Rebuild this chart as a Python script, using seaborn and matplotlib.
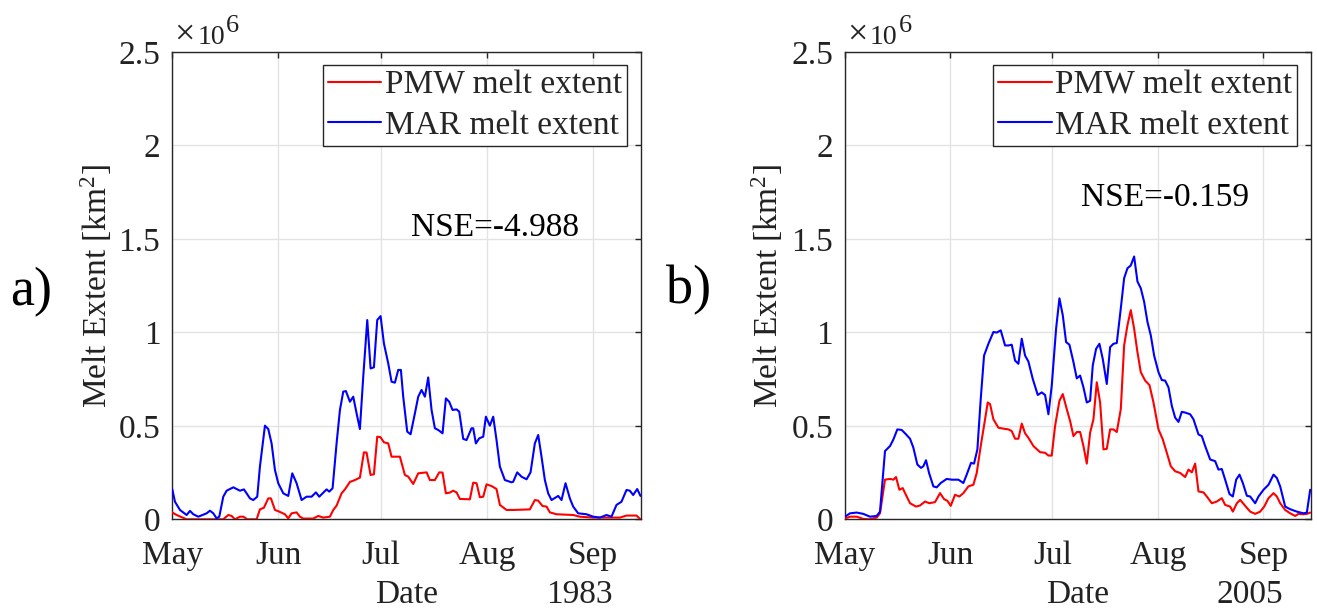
import numpy as np
import pandas as pd
import matplotlib
matplotlib.use("Agg")
import matplotlib.pyplot as plt
import matplotlib.dates as mdates
import seaborn as sns

# ---------------- data (melt extent in 10^6 km^2, day offset from May 1) -------------
years = ["1983", "2005"]
panel_labels = ["a)", "b)"]
nse_texts = ["NSE=-4.988", "NSE=-0.159"]
series_labels = ["PMW melt extent", "MAR melt extent"]
month_labels = ["May", "Jun", "Jul", "Aug", "Sep"]
ytick_values = [0, 0.5, 1, 1.5, 2, 2.5]
ytick_labels = ["0", "0.5", "1", "1.5", "2", "2.5"]

mar_1983_day = [0.0, 0.78, 2.24, 4.19, 5.17, 6.14, 7.60, 10.04, 11.01, 11.99, 12.96, 13.74, 14.91, 15.89,
                17.84, 19.79, 20.96, 22.71, 23.68, 24.85, 25.63, 27.10, 28.07, 29.04, 30.02, 30.99, 32.46,
                33.92, 35.09, 36.35, 37.82, 39.28, 40.74, 42.01, 42.98, 45.13, 45.91, 46.88, 48.05, 49.03,
                50.00, 50.78, 51.95, 52.92, 53.90, 54.87, 55.85, 57.02, 58.00, 58.97, 59.94, 60.92, 61.89,
                63.16, 64.13, 65.11, 66.08, 66.86, 67.54, 68.71, 69.69, 70.96, 71.93, 72.90, 73.88, 74.85,
                75.83, 76.80, 77.78, 79.04, 80.02, 80.99, 81.97, 83.14, 83.92, 85.09, 86.06, 87.52, 88.01,
                88.79, 89.77, 90.94, 91.72, 92.88, 93.86, 94.83, 95.81, 97.27, 99.22, 99.71, 100.88, 102.14,
                103.61, 104.78, 106.04, 107.02, 107.99, 108.97, 109.94, 110.92, 112.87, 113.84, 115.01,
                116.28, 117.25, 118.71, 121.15, 123.10, 125.05, 127.00, 128.46, 129.92, 131.38, 132.85,
                133.82, 134.80, 135.97, 136.94]
mar_1983_val = [0.160, 0.094, 0.050, 0.023, 0.045, 0.027, 0.014, 0.032, 0.046, 0.032, 0.005, 0.014, 0.121,
                0.153, 0.171, 0.153, 0.160, 0.112, 0.103, 0.121, 0.282, 0.501, 0.483, 0.406, 0.264, 0.193,
                0.139, 0.125, 0.246, 0.193, 0.103, 0.121, 0.121, 0.144, 0.121, 0.160, 0.148, 0.166, 0.406,
                0.585, 0.683, 0.686, 0.629, 0.656, 0.567, 0.483, 0.763, 1.066, 0.807, 0.813, 1.066, 1.087,
                0.941, 0.834, 0.736, 0.731, 0.799, 0.799, 0.656, 0.469, 0.455, 0.567, 0.656, 0.692, 0.656,
                0.759, 0.585, 0.487, 0.478, 0.460, 0.647, 0.629, 0.585, 0.588, 0.576, 0.430, 0.424, 0.487,
                0.487, 0.406, 0.433, 0.442, 0.549, 0.501, 0.549, 0.424, 0.282, 0.210, 0.198, 0.201, 0.251,
                0.228, 0.214, 0.251, 0.406, 0.451, 0.335, 0.210, 0.139, 0.103, 0.125, 0.103, 0.193, 0.112,
                0.068, 0.032, 0.027, 0.014, 0.009, 0.023, 0.014, 0.077, 0.094, 0.157, 0.153, 0.130, 0.162,
                0.125]

pmw_1983_day = [0.0, 1.27, 4.19, 14.91, 16.37, 17.35, 18.32, 19.79, 20.76, 21.93, 24.66, 25.63, 26.80,
                28.07, 28.85, 30.02, 31.29, 32.94, 33.92, 34.89, 36.35, 37.33, 38.30, 41.23, 42.69, 44.15,
                46.10, 47.08, 48.05, 49.51, 50.49, 51.95, 53.41, 54.87, 56.04, 56.82, 57.99, 58.97, 59.94,
                60.92, 61.89, 63.16, 64.13, 66.57, 68.03, 69.01, 70.47, 71.93, 74.37, 75.34, 76.80, 78.07,
                79.04, 80.02, 81.19, 82.16, 83.14, 84.11, 87.04, 88.01, 88.99, 89.96, 90.94, 91.91, 93.37,
                94.83, 95.81, 97.76, 99.71, 104.58, 106.04, 107.02, 108.28, 109.45, 110.43, 112.38, 117.25,
                119.20, 123.10, 130.90, 132.85, 135.77, 136.94]
pmw_1983_val = [0.036, 0.023, 0.0, 0.0, 0.023, 0.018, 0.0, 0.014, 0.014, 0.0, 0.0, 0.053, 0.062, 0.112,
                0.112, 0.050, 0.041, 0.027, 0.005, 0.032, 0.037, 0.014, 0.004, 0.004, 0.018, 0.009, 0.014,
                0.050, 0.073, 0.139, 0.160, 0.200, 0.210, 0.223, 0.358, 0.357, 0.237, 0.241, 0.442, 0.439,
                0.412, 0.406, 0.335, 0.335, 0.237, 0.228, 0.189, 0.246, 0.251, 0.210, 0.210, 0.251, 0.250,
                0.139, 0.143, 0.153, 0.144, 0.109, 0.107, 0.196, 0.193, 0.118, 0.121, 0.187, 0.178, 0.162,
                0.077, 0.050, 0.050, 0.053, 0.103, 0.100, 0.071, 0.068, 0.037, 0.027, 0.023, 0.014, 0.009,
                0.009, 0.020, 0.020, 0.0]

mar_2005_day = [0.0, 1.47, 3.43, 5.39, 7.35, 9.31, 10.29, 11.76, 13.24, 14.22, 15.39, 16.67, 17.65, 19.12,
                20.10, 21.27, 22.35, 23.04, 23.82, 24.71, 25.98, 26.96, 28.14, 29.90, 31.37, 33.33, 34.80,
                35.78, 37.06, 37.94, 38.92, 39.90, 40.88, 42.16, 43.63, 44.61, 45.78, 47.06, 48.04, 49.02,
                50.00, 50.98, 51.96, 52.94, 53.92, 55.20, 56.67, 57.84, 58.82, 59.80, 60.78, 62.06, 63.04,
                64.02, 65.00, 65.98, 67.16, 68.14, 69.12, 70.10, 71.08, 72.06, 72.84, 73.82, 74.80, 75.78,
                76.96, 77.94, 78.92, 79.90, 81.08, 82.06, 83.04, 84.02, 85.00, 85.98, 86.96, 87.94, 88.92,
                89.90, 90.88, 92.16, 93.14, 94.12, 95.10, 96.08, 97.06, 98.04, 99.02, 100.00, 101.47,
                102.45, 103.92, 104.90, 105.88, 107.35, 108.82, 109.80, 110.78, 111.76, 113.04, 114.02,
                115.00, 115.98, 116.96, 118.14, 119.12, 120.59, 121.57, 123.04, 124.51, 125.98, 126.96,
                127.94, 129.41, 130.88, 132.84, 134.80, 135.78, 136.76]
mar_2005_val = [0.014, 0.032, 0.036, 0.029, 0.014, 0.018, 0.041, 0.365, 0.392, 0.427, 0.481, 0.478, 0.460,
                0.431, 0.383, 0.293, 0.275, 0.284, 0.316, 0.248, 0.176, 0.171, 0.194, 0.216, 0.212, 0.212,
                0.194, 0.239, 0.302, 0.298, 0.374, 0.643, 0.876, 0.939, 1.002, 0.999, 1.011, 0.930, 0.930,
                0.934, 0.849, 0.832, 0.966, 0.876, 0.844, 0.751, 0.665, 0.679, 0.665, 0.562, 0.715, 1.020,
                1.182, 1.092, 0.948, 0.934, 0.841, 0.754, 0.769, 0.706, 0.625, 0.634, 0.823, 0.912, 0.939,
                0.858, 0.724, 0.921, 0.939, 0.943, 1.128, 1.290, 1.343, 1.358, 1.406, 1.272, 1.236, 1.164,
                1.056, 0.984, 0.876, 0.787, 0.745, 0.742, 0.706, 0.607, 0.544, 0.521, 0.575, 0.571, 0.562,
                0.535, 0.454, 0.445, 0.392, 0.320, 0.311, 0.266, 0.269, 0.212, 0.135, 0.122, 0.212, 0.239,
                0.194, 0.126, 0.122, 0.086, 0.122, 0.158, 0.185, 0.239, 0.221, 0.176, 0.068, 0.054, 0.041,
                0.032, 0.036, 0.158]

pmw_2005_day = [0.0, 1.47, 3.43, 5.39, 7.35, 9.31, 10.29, 11.76, 13.24, 14.22, 15.00, 15.98, 16.96, 18.14,
                19.12, 20.88, 22.06, 23.53, 24.80, 26.47, 27.94, 29.12, 30.10, 31.08, 32.35, 33.63, 34.80,
                36.27, 37.75, 38.73, 39.90, 41.18, 41.96, 42.65, 43.63, 45.10, 46.57, 48.04, 49.02, 50.00,
                50.98, 51.96, 52.94, 53.92, 55.39, 57.35, 58.82, 59.80, 60.78, 61.76, 63.04, 64.02, 65.20,
                66.18, 67.16, 68.14, 69.12, 70.10, 71.08, 72.06, 73.04, 74.02, 75.00, 75.98, 76.96, 77.94,
                78.92, 79.90, 81.08, 82.06, 83.04, 84.02, 85.00, 85.98, 86.96, 88.24, 89.51, 90.69, 92.16,
                93.43, 94.61, 95.78, 97.06, 98.53, 100.00, 100.98, 101.96, 102.94, 103.92, 105.39, 106.37,
                107.84, 109.31, 110.78, 111.76, 113.24, 114.02, 115.20, 116.18, 117.65, 119.12, 120.59,
                122.06, 123.24, 124.51, 125.98, 126.96, 127.94, 129.41, 130.88, 132.35, 133.33, 134.80,
                135.78, 136.76]
pmw_2005_val = [0.004, 0.014, 0.014, 0.002, 0.0, 0.009, 0.032, 0.212, 0.216, 0.212, 0.226, 0.158, 0.167,
                0.122, 0.086, 0.068, 0.074, 0.095, 0.086, 0.092, 0.140, 0.108, 0.099, 0.072, 0.131, 0.122,
                0.140, 0.176, 0.185, 0.248, 0.392, 0.535, 0.625, 0.616, 0.535, 0.490, 0.485, 0.481, 0.472,
                0.431, 0.431, 0.512, 0.460, 0.436, 0.392, 0.359, 0.356, 0.341, 0.341, 0.499, 0.634, 0.670,
                0.589, 0.526, 0.445, 0.467, 0.467, 0.392, 0.298, 0.463, 0.535, 0.733, 0.625, 0.374, 0.377,
                0.481, 0.481, 0.467, 0.589, 0.930, 1.038, 1.119, 1.020, 0.894, 0.787, 0.742, 0.718, 0.625,
                0.481, 0.427, 0.356, 0.284, 0.257, 0.248, 0.226, 0.266, 0.251, 0.298, 0.149, 0.144, 0.122,
                0.086, 0.095, 0.113, 0.077, 0.068, 0.041, 0.086, 0.104, 0.072, 0.041, 0.029, 0.041, 0.068,
                0.113, 0.140, 0.122, 0.086, 0.050, 0.032, 0.018, 0.029, 0.027, 0.029, 0.036]

panels = [
    (years[0], pmw_1983_day, pmw_1983_val, mar_1983_day, mar_1983_val),
    (years[1], pmw_2005_day, pmw_2005_val, mar_2005_day, mar_2005_val),
]

# ---------------- style ----------------
sns.set_style("white")
plt.rcParams["font.family"] = ["Liberation Serif", "DejaVu Serif"]
plt.rcParams["mathtext.fontset"] = "custom"
plt.rcParams["mathtext.rm"] = "Liberation Serif"
plt.rcParams["mathtext.it"] = "Liberation Serif:italic"
plt.rcParams["mathtext.default"] = "regular"

W, H = 1317, 614
fig = plt.figure(figsize=(W / 100, H / 100), dpi=100)
fig.patch.set_facecolor("white")

FS = 24
edge = "#262626"
txt = "#222222"
axes_px = [(172.3, 640.7), (845.0, 1311.0)]
top_px, bot_px = 52.0, 519.3
nse_pos = [(94.4, 1.56), (94.0, 1.72)]
ylab_x = [-0.1245, -0.129]
label_xy = [(31, 292), (689, 290)]
span_days = 137

for i, (yr, pd_day, pd_val, md_day, md_val) in enumerate(panels):
    l, r = axes_px[i]
    ax = fig.add_axes([l / W, (H - bot_px) / H, (r - l) / W, (bot_px - top_px) / H])
    base = pd.Timestamp(f"{yr}-05-01")
    df_p = pd.DataFrame({"date": base + pd.to_timedelta(pd_day, unit="D"), "val": pd_val})
    df_m = pd.DataFrame({"date": base + pd.to_timedelta(md_day, unit="D"), "val": md_val})
    sns.lineplot(data=df_p, x="date", y="val", ax=ax, color="#ff0000", lw=1.5,
                 label=series_labels[0], estimator=None, sort=False, zorder=3)
    sns.lineplot(data=df_m, x="date", y="val", ax=ax, color="#0000ff", lw=1.5,
                 label=series_labels[1], estimator=None, sort=False, zorder=3)

    ax.set_xlim(base, base + pd.Timedelta(days=span_days))
    ax.set_ylim(0, 2.5)
    ticks = [pd.Timestamp(f"{yr}-{m:02d}-01") for m in range(5, 10)]
    ax.set_xticks(ticks)
    ax.set_xticklabels(month_labels)
    ax.set_yticks(ytick_values)
    ax.set_yticklabels(ytick_labels)
    ax.tick_params(axis="both", direction="in", length=4, width=1.0, color=edge,
                   labelsize=FS, labelcolor=txt, top=True, right=True)
    ax.tick_params(axis="y", pad=8.6)
    ax.tick_params(axis="x", pad=15)
    ax.grid(True, color="#e3e3e3", lw=1.0, zorder=0)
    ax.set_axisbelow(True)
    for s in ax.spines.values():
        s.set_color(edge)
        s.set_linewidth(1.0)
        s.set_visible(True)

    ax.set_xlabel("Date", fontsize=FS, color=txt)
    ax.xaxis.set_label_coords(0.5, -0.128)
    ax.xaxis.label.set_va("top")
    ax.text(0.869, -0.128, yr, transform=ax.transAxes, ha="center", va="top",
            fontsize=FS, color=txt)
    ax.set_ylabel("Melt Extent [km$^2$]", fontsize=FS, color=txt)
    ax.yaxis.set_label_coords(ylab_x[i], 0.5)

    # MATLAB-style exponent label: ×10^6
    ax.text(0.004, 1.017, "×", transform=ax.transAxes, ha="left", va="baseline",
            fontsize=26, color=txt)
    ax.text(0.053, 1.017, "10", transform=ax.transAxes, ha="left", va="baseline",
            fontsize=20, color=txt)
    ax.text(0.115, 1.043, "6", transform=ax.transAxes, ha="left", va="baseline",
            fontsize=19, color=txt)

    nx, ny = nse_pos[i]
    ax.text(base + pd.Timedelta(days=nx), ny, nse_texts[i], ha="center", va="center",
            fontsize=FS, color="black")

    leg = ax.legend(loc="upper right", bbox_to_anchor=(0.970, 0.972), borderaxespad=0,
                    fontsize=FS, frameon=True, fancybox=False, edgecolor=edge,
                    handlelength=1.6, handletextpad=0.1, borderpad=0.15, labelspacing=0.3)
    leg.get_frame().set_linewidth(1.0)
    leg.get_frame().set_facecolor("white")
    leg.get_frame().set_alpha(1)

    fig.text(label_xy[i][0] / W, 1 - label_xy[i][1] / H, panel_labels[i], ha="center",
             va="center", fontsize=39, color="black")

fig.savefig("out.png", dpi=100, facecolor="white")
